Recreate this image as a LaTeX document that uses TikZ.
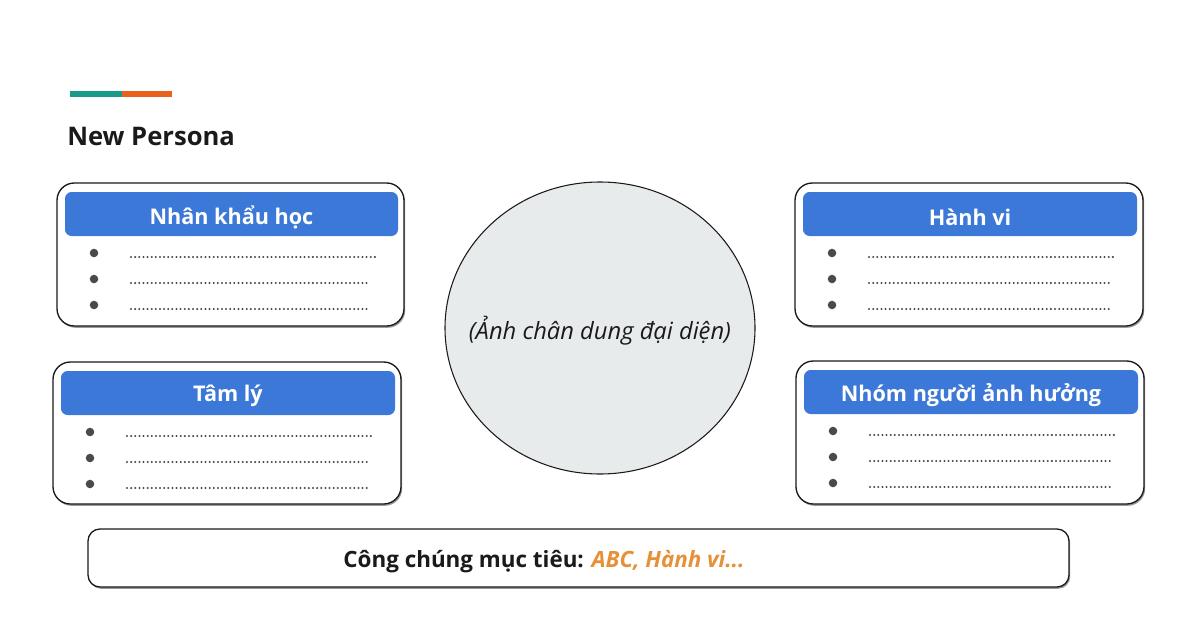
\documentclass[tikz,border=0pt]{standalone}
\usepackage{fontspec}
\setmainfont{Open Sans}
\definecolor{headc}{HTML}{3C78D8}
\definecolor{tealc}{HTML}{1A9B8A}
\definecolor{orangec}{HTML}{E8621C}
\definecolor{orangetxt}{HTML}{E69138}
\definecolor{circc}{HTML}{E8EBEC}
\definecolor{dotc}{HTML}{4A4A4A}
\definecolor{inkc}{HTML}{1A1A1A}
\definecolor{shadowc}{HTML}{9A9A9A}
\tikzset{
  card/.style={draw=inkc, line width=1pt, fill=white, rounded corners=13pt},
  headtxt/.style={text=white, font=\bfseries\fontsize{16.2}{19}\selectfont, inner sep=0pt},
  dots/.style={draw=dotc, line width=1.7pt, line cap=round, dash pattern=on 0pt off 3.1pt},
}
\newcommand\personacard[6]{%
  \fill[shadowc,rounded corners=13pt] (#2+1.2,#3+1.8) rectangle (#4+1.2,#5+1.8);
  \draw[card] (#2,#3) rectangle (#4,#5);
  \fill[headc,rounded corners=5pt] (#2+8,#3+9) rectangle (#4-6,#3+53);
  \node[headtxt] (#1) at ({(#2+#4)/2+1},#3+34) {#6};
  \foreach \k/\e in {0/29,1/34,2/34} {
    \fill[dotc] (#2+37,#3+70+26*\k) circle (3.2pt);
    \draw[dots] (#2+74,#3+74+26*\k) -- (#4-\e,#3+74+26*\k);
  }%
}
\begin{document}
\begin{tikzpicture}[x=0.75pt,y=-0.75pt]
\useasboundingbox[fill=white] (0,0) rectangle (1200,628);
% accent bar
\fill[tealc] (70,91) rectangle (122,97);
\fill[orangec] (122,91) rectangle (172,97);
\node[anchor=west, inner sep=0pt, text=inkc, font=\bfseries\fontsize{19.2}{23}\selectfont] (title) at (67,136) {New Persona};
% cards
\personacard{demo}{57}{183}{404}{326}{Nhân khẩu học}
\personacard{psy}{53}{362}{401}{504}{Tâm lý}
\personacard{beh}{795}{183}{1143}{326}{Hành vi}
\personacard{infl}{796}{361}{1144}{504}{Nhóm người ảnh hưởng}
% portrait
\draw[draw=inkc, line width=0.8pt, fill=circc] (600,328) ellipse [x radius=116.25pt, y radius=109.5pt];
\node[inner sep=0pt, text=inkc, font=\itshape\fontsize{17.8}{21}\selectfont] (portrait) at (600,331) {(Ảnh chân dung đại diện)};
% bottom bar
\fill[shadowc,rounded corners=9pt] (89.2,530.8) rectangle (1070.2,588.8);
\draw[card, rounded corners=9pt] (88,529) rectangle (1069,587);
\node[inner sep=0pt, text=inkc, font=\bfseries\fontsize{16.8}{20}\selectfont] (target) at (544,562) {Công chúng mục tiêu: \textcolor{orangetxt}{\itshape ABC, Hành vi...}};
\end{tikzpicture}
\end{document}
